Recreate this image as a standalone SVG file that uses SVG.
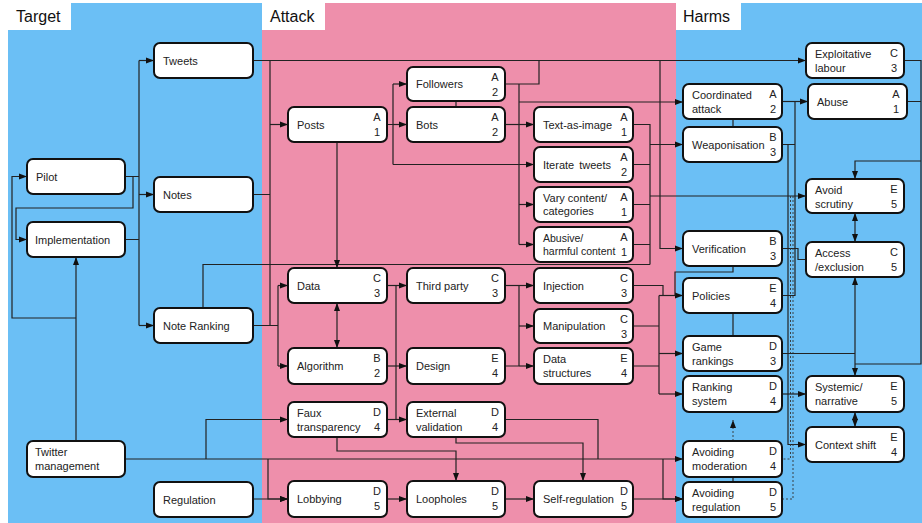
<svg xmlns="http://www.w3.org/2000/svg" width="922" height="523" viewBox="0 0 922 523">
<style>
.n rect{fill:#fff;stroke:#111;stroke-width:2}
text{font-family:"Liberation Sans",Arial,sans-serif;font-size:11px;fill:#222}
.t{font-size:16px;fill:#111}
.l{text-anchor:middle}
.s{font-size:10.5px}
#conn path{fill:none;stroke:#222;stroke-width:1.2}
#conn .ar{marker-end:url(#ah)}
#conn .bi{marker-end:url(#ah);marker-start:url(#ah)}
#conn .d{stroke-dasharray:2 2;stroke-width:0.9;stroke:#333}
</style>
<defs>
<marker id="ah" markerUnits="userSpaceOnUse" markerWidth="8" markerHeight="8" viewBox="0 0 8 8" refX="8" refY="4" orient="auto-start-reverse"><path d="M0,1 L8,4 L0,7 z" fill="#111"/></marker>
</defs>
<rect width="922" height="523" fill="#fff"/>
<g id="panels">
<rect x="8" y="3" width="254" height="520" fill="#6BBFF5"/>
<rect x="262" y="3" width="414" height="520" fill="#EE8FAB"/>
<rect x="676" y="3" width="246" height="520" fill="#6BBFF5"/>
<rect x="8" y="3" width="63" height="27" fill="#fff"/>
<rect x="262" y="3" width="63" height="27" fill="#fff"/>
<rect x="676" y="3" width="65" height="27" fill="#fff"/>
<text class="t" x="16" y="22">Target</text>
<text class="t" x="270" y="22">Attack</text>
<text class="t" x="683" y="22">Harms</text>
</g>
<g id="conn">
<path class="ar" d="M253,60.5 H806"/>
<path d="M270,60.5 V325.5 M253,194.5 H270 M253,325.5 H278"/>
<path class="ar" d="M270,124.5 H288"/>
<path d="M278,285.5 V366"/>
<path class="ar" d="M278,285.5 H288"/>
<path class="ar" d="M278,366 H288"/>
<path d="M125,176.5 H139 M139,60.5 V325.5 M125,239.5 H139"/>
<path class="ar" d="M139,60.5 H154"/>
<path class="ar" d="M139,194.5 H154"/>
<path class="ar" d="M139,325.5 H154"/>
<path class="ar" d="M133,176.5 V208 H16 V239.5 H27"/>
<path class="ar" d="M76,441 V257"/>
<path class="ar" d="M76,318 H12 V176.5 H27"/>
<path d="M203,308 V264.5 H650 M633,124.5 H650 V264.5 M633,164.5 H650 M633,204.5 H650 M633,244.5 H650"/>
<path class="ar" d="M650,144.5 H683"/>
<path class="ar" d="M650,196 H806"/>
<path class="ar" d="M660,60.5 V248.5 H683"/>
<path d="M505,84 H539 V60.5 M519,84 V244.5"/>
<path class="ar" d="M519,204.5 H534"/>
<path class="ar" d="M519,244.5 H534"/>
<path class="ar" d="M519,102 H683"/>
<path d="M387,124.5 H393 M393,84 V164.5"/>
<path class="ar" d="M393,84 H407"/>
<path class="ar" d="M393,124.5 H407"/>
<path class="ar" d="M393,164.5 H534"/>
<path class="ar" d="M505,124.5 H534"/>
<path d="M456,101 V107"/>
<path class="ar" d="M337,142 V268"/>
<path class="bi" d="M337,303 V348"/>
<path class="ar" d="M387,285.5 H407"/>
<path d="M396,285.5 V419.5"/>
<path class="ar" d="M387,419.5 H407"/>
<path class="ar" d="M387,366 H407"/>
<path class="ar" d="M505,285.5 H534"/>
<path d="M519,285.5 V366 M505,366 H519"/>
<path class="ar" d="M519,326 H534"/>
<path class="ar" d="M519,366 H534"/>
<path d="M633,285.5 H663 V295.5 M633,326 H659 M633,366 H659 M659,295.5 V394"/>
<path class="ar" d="M659,295.5 H683"/>
<path class="ar" d="M659,353.5 H683"/>
<path class="ar" d="M659,394 H683"/>
<path d="M733,266 V272 H675 V295.5"/>
<path d="M733,313 V336 M733,119 V127 M733,477 V482"/>
<path class="ar d" d="M733,441 V420"/>
<path class="ar" d="M125,459 H683"/>
<path class="ar" d="M206,459 V419.5 H288"/>
<path class="ar" d="M268,459 V499 H288"/>
<path class="ar" d="M253,499 H288"/>
<path d="M505,419.5 H598 V459"/>
<path class="ar" d="M663,459 V499 H683"/>
<path class="ar" d="M633,499 H683"/>
<path class="ar" d="M337,437 V451 H456 V481"/>
<path class="ar" d="M456,437 V443 H583 V481"/>
<path class="ar" d="M387,499 H407"/>
<path class="ar" d="M505,499 H534"/>
<path class="ar" d="M782,101.5 H808"/>
<path d="M795,101.5 V295.5 H782 M782,144.5 H795"/>
<path class="ar" d="M788,144.5 V444.5 H806"/>
<path d="M782,248.5 H798 V259.5 H806"/>
<path class="d" d="M790.5,196 V459 H782 M793,196 V499 H782"/>
<path class="ar" d="M782,394 H806"/>
<path d="M782,353.5 H855"/>
<path class="bi" d="M855,277 V376"/>
<path class="bi" d="M855,213 V242"/>
<path class="bi" d="M855,412 V427"/>
<path d="M904,60.5 H921 V364 H855 M907,101.5 H921"/>
<path class="ar" d="M921,161 H855 V179"/>
</g>
<g id="tweets" class="n"><rect x="154" y="43" width="99" height="35" rx="6"/><text x="163" y="64.5">Tweets</text></g>
<g id="pilot" class="n"><rect x="27" y="159" width="98" height="35" rx="6"/><text x="36" y="180.5">Pilot</text></g>
<g id="notes" class="n"><rect x="154" y="177" width="99" height="35" rx="6"/><text x="163" y="198.5">Notes</text></g>
<g id="implementation" class="n"><rect x="27" y="222" width="98" height="35" rx="6"/><text x="35" y="243.5">Implementation</text></g>
<g id="note-ranking" class="n"><rect x="154" y="308" width="99" height="35" rx="6"/><text x="163" y="329.5">Note Ranking</text></g>
<g id="twitter-management" class="n"><rect x="27" y="441" width="98" height="36" rx="6"/><text x="35" y="456">Twitter</text><text x="35" y="470">management</text></g>
<g id="regulation" class="n"><rect x="154" y="482" width="99" height="35" rx="6"/><text x="163" y="503.5">Regulation</text></g>
<g id="posts" class="n"><rect x="288" y="107" width="99" height="35" rx="6"/><text x="297" y="128.5">Posts</text><text class="l" x="377" y="121">A</text><text class="l" x="377" y="136">1</text></g>
<g id="followers" class="n"><rect x="407" y="67" width="98" height="34" rx="6"/><text x="416" y="88">Followers</text><text class="l" x="495" y="81">A</text><text class="l" x="495" y="96">2</text></g>
<g id="bots" class="n"><rect x="407" y="107" width="98" height="35" rx="6"/><text x="416" y="128.5">Bots</text><text class="l" x="495" y="121">A</text><text class="l" x="495" y="136">2</text></g>
<g id="text-as-image" class="n"><rect x="534" y="107" width="99" height="35" rx="6"/><text x="543" y="128.5">Text-as-image</text><text class="l" x="624" y="121">A</text><text class="l" x="624" y="136">1</text></g>
<g id="iterate-tweets" class="n"><rect x="534" y="147" width="99" height="35" rx="6"/><text x="543" y="168.5" word-spacing="2">Iterate tweets</text><text class="l" x="624" y="161">A</text><text class="l" x="624" y="176">2</text></g>
<g id="vary-content" class="n"><rect x="534" y="187" width="99" height="35" rx="6"/><text x="543" y="202">Vary content/</text><text x="543" y="215">categories</text><text class="l" x="624" y="201">A</text><text class="l" x="624" y="216">1</text></g>
<g id="abusive-content" class="n"><rect x="534" y="227" width="99" height="35" rx="6"/><text class="s" x="543" y="242">Abusive/</text><text class="s" x="543" y="255">harmful content</text><text class="l" x="624" y="241">A</text><text class="l" x="624" y="256">1</text></g>
<g id="data" class="n"><rect x="288" y="268" width="99" height="35" rx="6"/><text x="297" y="289.5">Data</text><text class="l" x="377" y="282">C</text><text class="l" x="377" y="297">3</text></g>
<g id="third-party" class="n"><rect x="407" y="268" width="98" height="35" rx="6"/><text x="416" y="289.5">Third party</text><text class="l" x="495" y="282">C</text><text class="l" x="495" y="297">3</text></g>
<g id="injection" class="n"><rect x="534" y="268" width="99" height="35" rx="6"/><text x="543" y="289.5">Injection</text><text class="l" x="624" y="282">C</text><text class="l" x="624" y="297">3</text></g>
<g id="manipulation" class="n"><rect x="534" y="309" width="99" height="34" rx="6"/><text x="543" y="330">Manipulation</text><text class="l" x="624" y="323">C</text><text class="l" x="624" y="338">3</text></g>
<g id="algorithm" class="n"><rect x="288" y="348" width="99" height="36" rx="6"/><text x="297" y="370">Algorithm</text><text class="l" x="377" y="362">B</text><text class="l" x="377" y="377">2</text></g>
<g id="design" class="n"><rect x="407" y="348" width="98" height="36" rx="6"/><text x="416" y="370">Design</text><text class="l" x="495" y="362">E</text><text class="l" x="495" y="377">4</text></g>
<g id="data-structures" class="n"><rect x="534" y="348" width="99" height="36" rx="6"/><text x="543" y="363">Data</text><text x="543" y="377">structures</text><text class="l" x="624" y="362">E</text><text class="l" x="624" y="377">4</text></g>
<g id="faux-transparency" class="n"><rect x="288" y="402" width="99" height="35" rx="6"/><text x="297" y="417">Faux</text><text x="297" y="431">transparency</text><text class="l" x="377" y="416">D</text><text class="l" x="377" y="431">4</text></g>
<g id="external-validation" class="n"><rect x="407" y="402" width="98" height="35" rx="6"/><text x="416" y="417">External</text><text x="416" y="431">validation</text><text class="l" x="495" y="416">D</text><text class="l" x="495" y="431">4</text></g>
<g id="lobbying" class="n"><rect x="288" y="481" width="99" height="36" rx="6"/><text x="297" y="503">Lobbying</text><text class="l" x="377" y="495">D</text><text class="l" x="377" y="510">5</text></g>
<g id="loopholes" class="n"><rect x="407" y="481" width="98" height="36" rx="6"/><text x="416" y="503">Loopholes</text><text class="l" x="495" y="495">D</text><text class="l" x="495" y="510">5</text></g>
<g id="self-regulation" class="n"><rect x="534" y="481" width="99" height="36" rx="6"/><text x="543" y="503">Self-regulation</text><text class="l" x="624" y="495">D</text><text class="l" x="624" y="510">5</text></g>
<g id="exploitative-labour" class="n"><rect x="806" y="43" width="98" height="35" rx="6"/><text x="815" y="58">Exploitative</text><text x="815" y="72">labour</text><text class="l" x="894" y="57">C</text><text class="l" x="894" y="72">3</text></g>
<g id="coordinated-attack" class="n"><rect x="683" y="84" width="99" height="35" rx="6"/><text x="692" y="99">Coordinated</text><text x="692" y="113">attack</text><text class="l" x="773" y="98">A</text><text class="l" x="773" y="113">2</text></g>
<g id="abuse" class="n"><rect x="808" y="84" width="99" height="35" rx="6"/><text x="817" y="105.5">Abuse</text><text class="l" x="896" y="98">A</text><text class="l" x="896" y="113">1</text></g>
<g id="weaponisation" class="n"><rect x="683" y="127" width="99" height="35" rx="6"/><text x="692" y="148.5">Weaponisation</text><text class="l" x="773" y="141">B</text><text class="l" x="773" y="156">3</text></g>
<g id="avoid-scrutiny" class="n"><rect x="806" y="179" width="98" height="34" rx="6"/><text x="815" y="194">Avoid</text><text x="815" y="208">scrutiny</text><text class="l" x="894" y="193">E</text><text class="l" x="894" y="208">5</text></g>
<g id="verification" class="n"><rect x="683" y="231" width="99" height="35" rx="6"/><text x="692" y="252.5">Verification</text><text class="l" x="773" y="245">B</text><text class="l" x="773" y="260">3</text></g>
<g id="access-exclusion" class="n"><rect x="806" y="242" width="98" height="35" rx="6"/><text x="815" y="257">Access</text><text x="815" y="271">/exclusion</text><text class="l" x="894" y="256">C</text><text class="l" x="894" y="271">5</text></g>
<g id="policies" class="n"><rect x="683" y="278" width="99" height="35" rx="6"/><text x="692" y="299.5">Policies</text><text class="l" x="773" y="292">E</text><text class="l" x="773" y="307">4</text></g>
<g id="game-rankings" class="n"><rect x="683" y="336" width="99" height="35" rx="6"/><text x="692" y="351">Game</text><text x="692" y="365">rankings</text><text class="l" x="773" y="350">D</text><text class="l" x="773" y="365">3</text></g>
<g id="ranking-system" class="n"><rect x="683" y="376" width="99" height="36" rx="6"/><text x="692" y="391">Ranking</text><text x="692" y="405">system</text><text class="l" x="773" y="390">D</text><text class="l" x="773" y="405">4</text></g>
<g id="avoiding-moderation" class="n"><rect x="683" y="441" width="99" height="36" rx="6"/><text x="692" y="456">Avoiding</text><text x="692" y="470">moderation</text><text class="l" x="773" y="455">D</text><text class="l" x="773" y="470">4</text></g>
<g id="avoiding-regulation" class="n"><rect x="683" y="482" width="99" height="35" rx="6"/><text x="692" y="497">Avoiding</text><text x="692" y="511">regulation</text><text class="l" x="773" y="496">D</text><text class="l" x="773" y="511">5</text></g>
<g id="systemic-narrative" class="n"><rect x="806" y="376" width="98" height="36" rx="6"/><text x="815" y="391">Systemic/</text><text x="815" y="405">narrative</text><text class="l" x="894" y="390">E</text><text class="l" x="894" y="405">5</text></g>
<g id="context-shift" class="n"><rect x="806" y="427" width="98" height="35" rx="6"/><text x="815" y="448.5">Context shift</text><text class="l" x="894" y="441">E</text><text class="l" x="894" y="456">4</text></g>
</svg>
